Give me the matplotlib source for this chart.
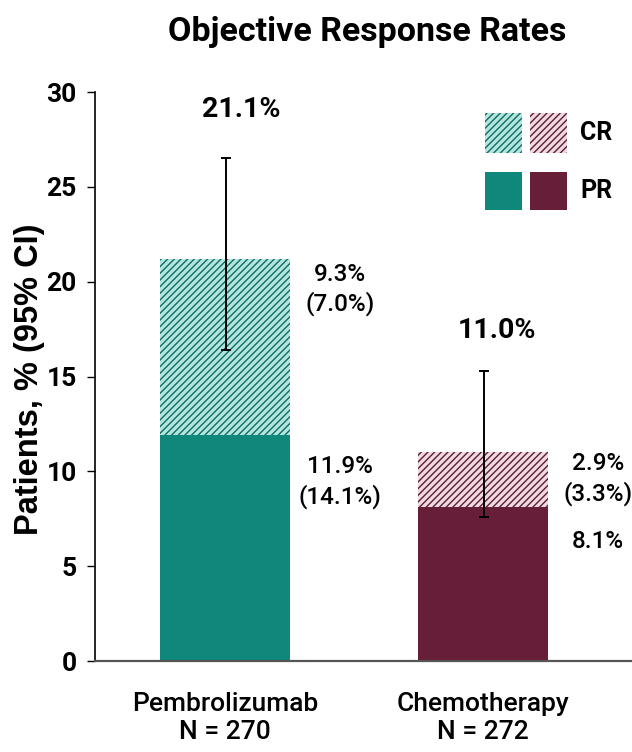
import matplotlib
matplotlib.use("Agg")
import matplotlib.pyplot as plt
from matplotlib.patches import Rectangle

# Data
arms = ["Pembrolizumab\nN = 270", "Chemotherapy\nN = 272"]
pr_values = [11.9, 8.1]
cr_values = [9.3, 2.9]
orr_labels = ["21.1%", "11.0%"]
ci_low = [16.4, 7.6]
ci_high = [26.5, 15.3]
cr_text = ["9.3%\n(7.0%)", "2.9%\n(3.3%)"]
pr_text = ["11.9%\n(14.1%)", "8.1%"]

solid_colors = ["#0f887b", "#671e38"]
hatch_face = ["#b4e6df", "#f1d9e1"]
hatch_line = ["#0c6d64", "#5a1c31"]

FONT = ["Roboto", "DejaVu Sans"]
plt.rcParams["font.family"] = FONT
plt.rcParams["hatch.linewidth"] = 1.0

fig = plt.figure(figsize=(6.32, 7.52), dpi=100)
ax = fig.add_axes([0.150, 0.121, 0.850, 0.7566])

x = list(range(len(arms)))
width = 0.504
for i in x:
    ax.bar(i, pr_values[i], width=width, color=solid_colors[i], linewidth=0)
    ax.bar(i, cr_values[i], width=width, bottom=pr_values[i],
           facecolor=hatch_face[i], edgecolor=hatch_line[i], hatch="/////",
           linewidth=0)
    total = pr_values[i] + cr_values[i]
    ax.errorbar(i + 0.005, total, yerr=[[total - ci_low[i]], [ci_high[i] - total]],
                fmt="none", ecolor="black", elinewidth=1.4, capsize=3.5, capthick=1.4)

ax.text(0.065, 29.1, orr_labels[0], ha="center", va="center", fontsize=20.5, fontweight="bold")
ax.text(1.054, 17.45, orr_labels[1], ha="center", va="center", fontsize=20.5, fontweight="bold")

# Side annotations
ann = dict(ha="center", va="center", fontsize=17.5, fontweight="medium", linespacing=1.3)
ax.text(0.446, 19.6, cr_text[0], **ann)
ax.text(0.446, 9.45, pr_text[0], **ann)
ax.text(1.446, 9.6, cr_text[1], **ann)
ax.text(1.446, 6.3, pr_text[1], **ann)

ax.set_xlim(-0.504, 1.578)
ax.set_ylim(0, 30)
ax.set_yticks(range(0, 31, 5))
ax.set_xticks(x)
ax.set_xticklabels(arms, fontsize=19, linespacing=1.25, fontweight="medium")
ax.tick_params(axis="x", length=0, pad=22)
ax.tick_params(axis="y", length=6, width=1, labelsize=19, pad=7, direction="out")
for lbl in ax.get_yticklabels():
    lbl.set_fontweight("bold")
ax.spines["top"].set_visible(False)
ax.spines["right"].set_visible(False)
ax.spines["left"].set_linewidth(1.2)
ax.spines["bottom"].set_linewidth(1.6)
ax.spines["bottom"].set_color("#555555")

ax.set_ylabel("Patients, % (95% CI)", fontsize=23.5, fontweight="bold",
              family=["Liberation Sans", "DejaVu Sans"])
ax.yaxis.set_label_coords(-0.093, 0.496)

fig.text(0.581, 0.958, "Objective Response Rates", ha="center", va="center",
         fontsize=24.5, fontweight="bold")

# Legend swatches
sw_w = 0.069
rows = [(0.893, 0.070, "CR", True), (0.793, 0.067, "PR", False)]
for y0, sw_h, name, hatched in rows:
    for j, x0 in enumerate([0.726, 0.81]):
        if hatched:
            r = Rectangle((x0, y0), sw_w, sw_h, transform=ax.transAxes,
                          facecolor=hatch_face[j], edgecolor=hatch_line[j],
                          hatch="/////", linewidth=0, clip_on=False)
        else:
            r = Rectangle((x0, y0), sw_w, sw_h, transform=ax.transAxes,
                          facecolor=solid_colors[j], linewidth=0, clip_on=False)
        ax.add_patch(r)
    ax.text(0.903, y0 + sw_h / 2, name, transform=ax.transAxes, ha="left",
            va="center", fontsize=18, fontweight="bold")

fig.savefig("out.png", dpi=100)
